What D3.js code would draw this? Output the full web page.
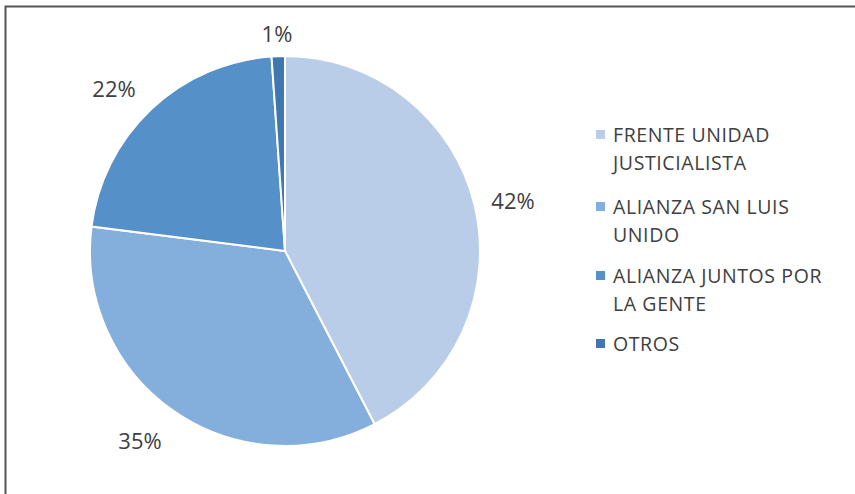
<!DOCTYPE html>
<html><head><meta charset="utf-8">
<script src="https://cdn.jsdelivr.net/npm/d3@7"></script>
<style>body{margin:0;background:#fff}svg{display:block}</style>
</head><body>
<script>
const categories = ["FRENTE UNIDAD JUSTICIALISTA","ALIANZA SAN LUIS UNIDO","ALIANZA JUNTOS POR LA GENTE","OTROS"];
const values = [42.4, 34.6, 21.9, 1.1];
const legendLines = [["FRENTE UNIDAD","JUSTICIALISTA"],["ALIANZA SAN LUIS","UNIDO"],["ALIANZA JUNTOS POR","LA GENTE"],["OTROS"]];
const colors = ["#B9CDE8","#84AEDC","#5591C8","#4177B0"];

const W=855,H=494;
const svg=d3.select("body").append("svg").attr("width",W).attr("height",H);
svg.append("path").attr("d",`M5.5,${H} L5.5,6.5 L${W},6.5`).attr("fill","none").attr("stroke","#555").attr("stroke-width",2);

const cx=285, cy=251, r=195;
const total=d3.sum(values);
const pie=d3.pie().sort(null).value(d=>d);
const arcs=pie(values);
const arc=d3.arc().innerRadius(0).outerRadius(r);
const g=svg.append("g").attr("transform",`translate(${cx},${cy})`);
g.selectAll("path").data(arcs).join("path").attr("d",arc)
  .attr("fill",(d,i)=>colors[i]).attr("stroke","#fff").attr("stroke-width",2);

const labelPos=[[513,200],[140,440],[114,88],[277,33]];
svg.selectAll("text.lab").data(arcs).join("text").attr("class","lab")
  .attr("x",(d,i)=>labelPos[i][0]).attr("y",(d,i)=>labelPos[i][1])
  .attr("text-anchor","middle").attr("dominant-baseline","central")
  .attr("font-family","'Open Sans', sans-serif").attr("font-size",22).attr("fill","#404040")
  .text(d=>Math.round(d.value/total*100)+"%");

const legY=[134,206,275,343];
const lg=svg.append("g");
categories.forEach((c,i)=>{
  lg.append("rect").attr("x",596).attr("y",legY[i]-4).attr("width",9).attr("height",9).attr("fill",colors[i]);
  legendLines[i].forEach((t,j)=>{
    lg.append("text").attr("x",613).attr("y",legY[i]+j*28).attr("dominant-baseline","central")
      .attr("font-family","'Open Sans', sans-serif").attr("font-size",19.5).attr("letter-spacing",0.6)
      .attr("fill","#404040").text(t);
  });
});
</script>
</body></html>
